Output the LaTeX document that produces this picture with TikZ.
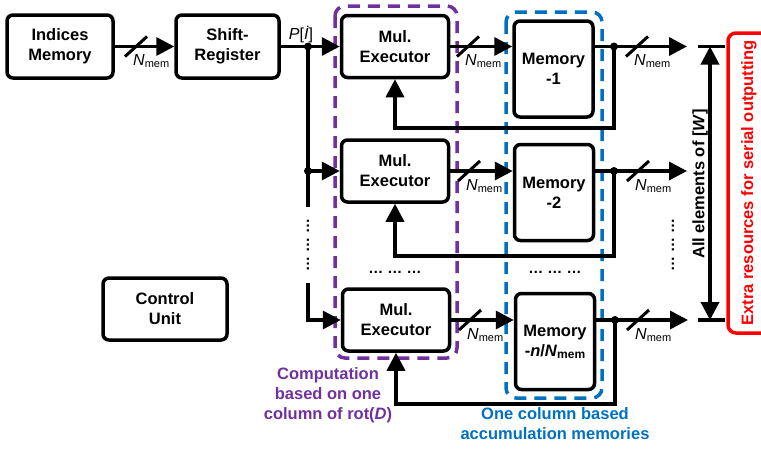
\documentclass[tikz,border=0pt]{standalone}
\usepackage{fontspec}
\setmainfont{Liberation Sans}
\usetikzlibrary{arrows.meta,calc}
\definecolor{compPurple}{HTML}{7030A0}
\definecolor{accBlue}{HTML}{0070C0}
\definecolor{extraRed}{HTML}{FF0000}

\tikzset{
  box/.style={draw,line width=3.5pt,rounded corners=6pt,align=center,inner sep=0pt,
    font=\bfseries\fontsize{16.5}{20}\selectfont},
  wire/.style={line width=3.5pt},
  conn/.style={wire,-{Triangle[length=18pt,width=18pt]}},
  dconn/.style={wire,{Triangle[length=18pt,width=18pt]}-{Triangle[length=18pt,width=18pt]}},
  joint/.style={fill,circle,inner sep=0pt,minimum size=8pt},
  groupbox/.style={line width=3.5pt,rounded corners=10pt,dash pattern=on 12pt off 8pt},
  grouplabel/.style={align=center,inner sep=0pt,font=\bfseries\fontsize{16.5}{20}\selectfont},
  etc/.style={inner sep=0pt,font=\bfseries\fontsize{15}{15}\selectfont},
  bus/.pic={
    \draw[line width=3pt] (-11,10) -- (11,-10);
    \node[anchor=base west,inner sep=0pt,font=\fontsize{16}{16}\selectfont] at (-3,19)
      {\textit{N}\raisebox{-2pt}{\fontsize{11}{11}\selectfont mem}};
  }
}

\begin{document}
\begin{tikzpicture}[x=1pt,y=-1pt]
\useasboundingbox (0,0) rectangle (761,448);
\clip (0,0) rectangle (761,448);

% functional blocks
\node[box,minimum width=106pt,minimum height=63pt] (idx) at (60,46.5) {Indices\\Memory};
\node[box,minimum width=103pt,minimum height=63pt] (sr) at (227.5,46.5) {Shift-\\Register};
\node[box,minimum width=124pt,minimum height=62pt] (cu) at (165,309) {Control\\Unit};

\node[box,minimum width=107pt,minimum height=62pt] (mul1) at (395,46.5) {Mul.\\Executor};
\node[box,minimum width=107pt,minimum height=62pt] (mul2) at (395,171) {Mul.\\Executor};
\node[box,minimum width=107pt,minimum height=62pt] (mul3) at (396,320) {Mul.\\Executor};

\node[box,minimum width=79pt,minimum height=96pt] (mem1) at (553.5,69) {Memory\\-1};
\node[box,minimum width=79pt,minimum height=96pt] (mem2) at (554,192.5) {Memory\\-2};
\node[box,minimum width=79pt,minimum height=96pt] (mem3) at (555,341.5)
  {Memory\\-\textit{n}/\textit{N}\raisebox{-2pt}{\fontsize{12}{12}\selectfont mem}};

% grouping frames
\draw[groupbox,compPurple] (335,6) rectangle (457,358);
\draw[groupbox,accBlue] (506,12) rectangle (602,398);

\node[grouplabel,compPurple,anchor=north] (complbl) at (328,367.5)
  {Computation\\based on one\\column of rot(\textit{D})};
\node[grouplabel,accBlue,anchor=north] (acclbl) at (555,407.5)
  {One column based\\accumulation memories};

% index path
\draw[conn] (idx) -- (sr);
\pic at (136,46.5) {bus};
\draw[conn] (sr) -- (mul1);
\node[inner sep=0pt,font=\fontsize{16}{16}\selectfont] (plbl) at (301,34.5) {\textit{P}[\textit{İ}]};

\coordinate (j1) at (308,46.5);
\coordinate (j2) at (308,171);
\coordinate (vtop) at (308,207);
\coordinate (vbot) at (308,283);
\node[joint] (jd1) at (j1) {};
\node[joint] (jd2) at (j2) {};
\draw[wire] (j1) -- (vtop);
\draw[conn] (j2) -- (mul2);
\node[etc,rotate=90] (ldots) at (308,245) {… … …};
\draw[conn] (vbot) |- (mul3);

% multiplier to memory
\draw[conn] (mul1.east) -- (mul1.east -| mem1.west);
\pic at (468,46.5) {bus};
\draw[conn] (mul2.east) -- (mul2.east -| mem2.west);
\pic at (469,171) {bus};
\draw[conn] (mul3.east) -- (mul3.east -| mem3.west);
\pic at (470,320) {bus};

% outputs and accumulation feedback
\coordinate (o1) at (614,46.5);
\coordinate (o2) at (614,171);
\coordinate (o3) at (615,320);
\coordinate (e1) at (687,46.5);
\coordinate (e2) at (687,171);
\coordinate (e3) at (688,320);

\draw[conn] (mem1.east |- o1) -- (e1);
\draw[conn] (mem2.east |- o2) -- (e2);
\draw[conn] (mem3.east |- o3) -- (e3);
\pic at (637,46.5) {bus};
\pic at (638,171) {bus};
\pic at (638,320) {bus};

\draw[conn] (o1) -- (614,128) -| (mul1.south);
\draw[conn] (o2) -- (614,256) -| (mul2.south);
\draw[conn] (o3) -- (615,404) -| (mul3.south);
\node[joint] (od1) at (o1) {};
\node[joint] (od2) at (o2) {};
\node[joint] (od3) at (o3) {};

\node[etc] (mdots1) at (395,272) {… … …};
\node[etc] (mdots2) at (555,272) {… … …};
\node[etc,rotate=90] (rdots) at (673,245) {… … …};

% span of all output elements
\coordinate (ta) at (698,46.5);
\coordinate (tb) at (725,46.5);
\coordinate (ba) at (698,320);
\coordinate (bb) at (725,320);
\draw[wire] (ta) -- (tb);
\draw[wire] (ba) -- (bb);
\draw[dconn] (710,46.5) -- (710,320);
\node[rotate=90,inner sep=0pt,font=\bfseries\fontsize{16.5}{20}\selectfont] (alllbl) at (700,184)
  {All elements of [\textit{W}]};

% serial output resources
\draw[extraRed,line width=3.5pt,rounded corners=8pt] (728,33) rectangle (790,333);
\node[rotate=90,inner sep=0pt,extraRed,font=\bfseries\fontsize{16.5}{20}\selectfont] (extralbl) at (749,183)
  {Extra resources for serial outputting};
\end{tikzpicture}
\end{document}
